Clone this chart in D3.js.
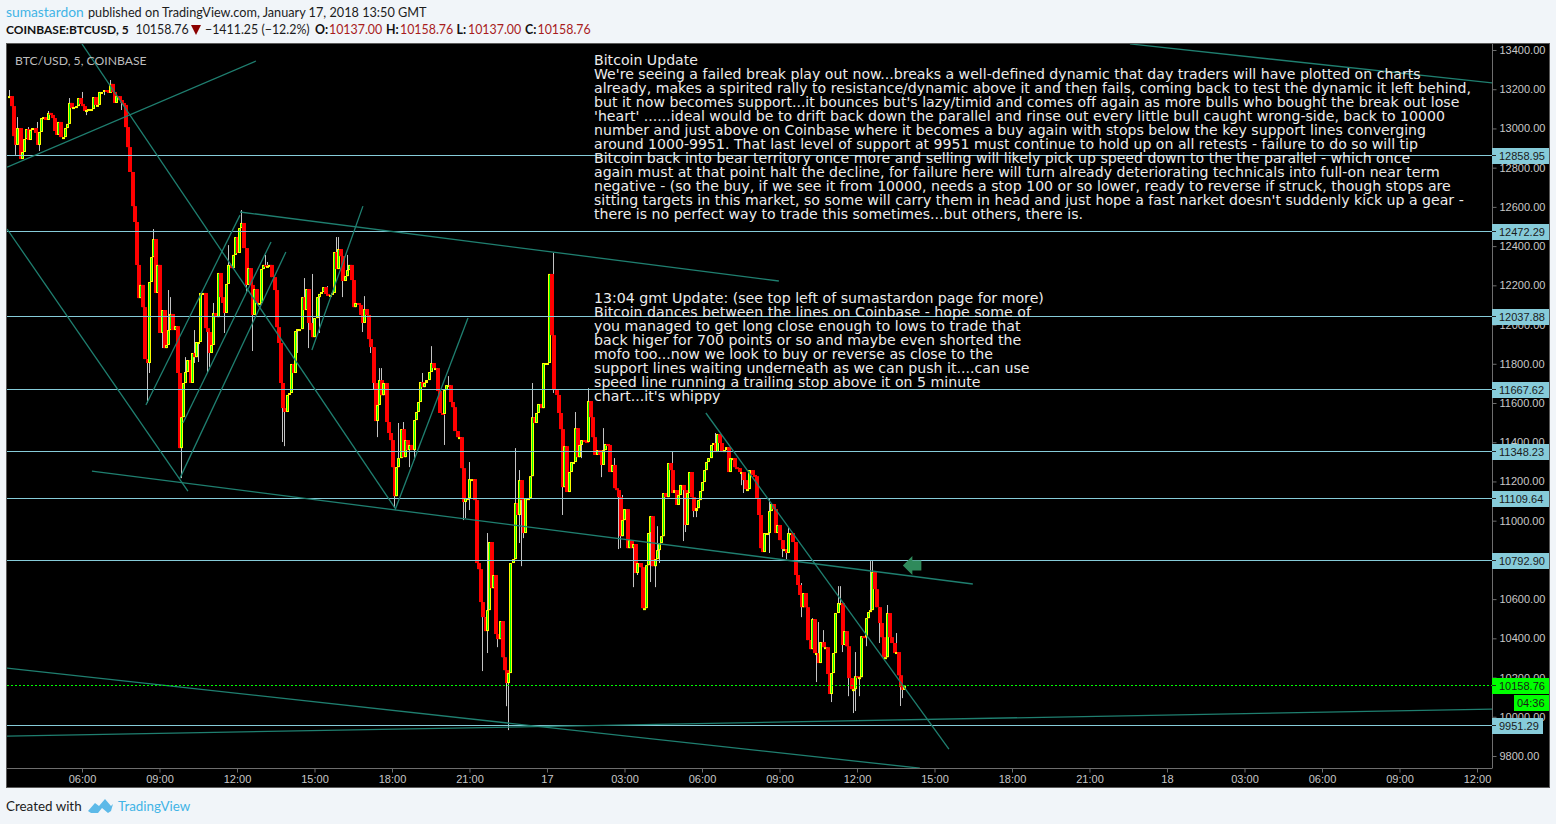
<!DOCTYPE html>
<html><head><meta charset="utf-8">
<script src="https://cdn.jsdelivr.net/npm/d3@7"></script>
<style>
html,body{margin:0;padding:0;background:#f1f5f9;overflow:hidden}
svg{display:block}
</style></head><body>
<svg id="c" width="1556" height="824"></svg>
<script>
// ---------- data ----------
const firstBarTime = Date.UTC(2018,0,16,3,10);
const firstOpen = 13155;
const closes = [
13165,13114,12961,12916,13002,12844,12880,12946,12997,12941,12992,13002,
12977,12916,12982,13053,13058,13043,13079,13069,13053,12987,12967,13033,
12956,12956,13002,13023,13130,13104,13109,13114,13155,13125,13114,13089,
13094,13099,13099,13160,13120,13120,13186,13186,13196,13191,13181,13227,
13186,13130,13165,13145,13130,13120,13007,12905,12778,12604,12523,12304,
12135,12202,12089,11824,11804,12217,12344,12436,12161,12304,11957,12074,
11880,11896,11972,12054,11972,11992,11753,11370,11528,11702,11758,11819,
11702,11855,11834,11911,11911,12161,12161,11982,11962,11855,11896,12059,
12038,12263,12140,12110,12059,12207,12304,12288,12355,12446,12365,12492,
12518,12390,12202,12288,12202,12049,12181,12110,12110,12283,12304,12294,
12299,12304,12242,12176,11987,11906,11702,11574,11554,11641,11651,11799,
11753,11967,11977,11977,12140,12074,12181,12008,11972,11936,12033,12140,
12156,12166,12191,12156,12151,12151,12161,12370,12283,12385,12349,12222,
12247,12278,12304,12227,12089,12110,12100,12049,12008,12079,12049,11926,
11885,11702,11508,11590,11717,11640,11702,11503,11447,11411,11273,11125,
11273,11319,11467,11324,11411,11360,11386,11360,11513,11554,11605,11707,
11681,11702,11717,11758,11804,11778,11778,11661,11549,11544,11666,11691,
11691,11605,11579,11457,11426,11426,11268,11095,11115,11115,11212,11212,
11105,10784,10753,10585,10508,10437,10544,10891,10656,10723,10422,10396,
10488,10304,10238,10172,10223,10784,10804,11090,11029,11207,11105,10937,
11115,11115,11227,11528,11498,11549,11595,11574,11804,11804,11804,12258,
11946,11666,11641,11549,11467,11171,11380,11146,11248,11299,11299,11472,
11324,11386,11411,11406,11401,11610,11528,11426,11335,11360,11335,11284,
11360,11391,11386,11248,11284,11166,11156,11120,10921,11003,11059,10860,
10901,10860,10881,10733,10784,10763,10554,10554,10773,10937,11023,10768,
10804,10850,10886,10921,11141,11120,11294,11258,11141,11156,11080,11131,
11182,11156,10978,11141,11248,11120,11049,11064,11105,11151,11197,11258,
11299,11319,11386,11396,11350,11442,11396,11350,11360,11375,11248,11319,
11319,11273,11268,11248,11248,11207,11161,11161,11258,11233,11227,11115,
11029,10860,10840,10937,10937,11049,11085,11059,10937,10978,10901,10855,
10855,10835,10937,10937,10891,10723,10672,10621,10559,10631,10559,10391,
10345,10498,10325,10325,10274,10381,10355,10355,10218,10116,10223,10325,
10529,10580,10580,10366,10437,10360,10197,10141,10141,10207,10202,10202,
10411,10406,10503,10534,10544,10738,10651,10559,10478,10406,10304,10304,
10529,10406,10376,10325,10330,10212,10151,10137,10158.76];
// long wicks: bar number and the price the wick reaches
const highWickBars = [0,3,4,9,13,18,28,34,47,60,61,67,74,75,82,86,95,102,108,119,120,137,141,148,152,153,157,165,172,173,181,183,189,192,196,204,214,222,225,227,231,235,237,243,248,253,263,269,276,281,285,288,291,292,301,308,328,353,362,366,368,373,376,378,385,386,393,400,401,408,410,412];
const highWickPrices = [13196,13058,13058,13007,13033,13089,13155,13186,13247,12329,12288,12487,12176,12140,11834,11972,12110,12405,12584,12355,12319,12237,12258,12196,12446,12446,12355,12145,11778,11778,11498,11503,11549,11753,11890,11737,11299,10937,10814,10544,10253,11370,11258,11702,11702,12365,11554,11676,11472,11319,11131,10967,10881,10825,10972,11350,11447,11115,10967,10733,10682,10503,10483,10442,10666,10666,10330,10794,10794,10570,10452,10427];
const lowWickBars = [3,9,14,36,44,52,64,65,71,72,80,86,88,92,93,100,110,113,127,128,134,139,144,155,164,168,169,171,179,186,188,202,211,212,214,220,222,227,231,232,237,238,239,253,257,266,275,283,284,290,292,298,300,302,313,314,318,319,340,341,353,359,361,368,375,382,387,390,392,393,395,398,404,406,414,415];
const lowWickPrices = [12865,12941,12885,13068,13170,13094,11600,11753,11880,11885,11217,11804,11809,11753,11783,11957,12161,11865,11401,11380,11855,11880,11957,12140,11962,11855,11671,11426,11069,11273,11309,11386,11003,11013,11054,10233,10325,10355,10054,9932,10886,10768,10911,11651,11029,11319,11222,10855,10860,10661,10723,10687,10661,10784,10896,10942,11018,11018,11181,11141,10835,10814,10804,10508,10177,10075,10330,10105,10019,10029,10105,10360,10376,10304,10055,10095];
// drawn trend lines: bar number and price at both ends
const trendBarsA   = [34,-0.8,-0.8,38.6,107.4,63.7,79.5,80.9,140.8,179.4,323.8,-0.8,-0.8,520.8];
const trendPricesA = [13431,12803,12487,11253,12574,11590,11217,11498,11870,11054,11549,10248,9901,13431];
const trendBarsB   = [179.4,114.8,83.2,447.8,357.7,107.4,128.7,121.8,164.5,213.3,436.7,423.2,689,689];
const trendPricesB = [11064,13344,11151,10677,12222,12558,12370,12421,12604,12033,9835,9738,10039,13232];
// horizontal levels
const levels = [12858.95,12472.29,12037.88,11667.62,11348.23,11109.64,10792.90,9951.29];
const lastPrice = 10158.76;
const countdown = "04:36";
const priceTicks = [13400,13200,13000,12800,12600,12400,12200,12000,11800,11600,11400,11200,11000,10800,10600,10400,10200,10000,9800];
const timeTicks = [[16,6,"06:00"],[16,9,"09:00"],[16,12,"12:00"],[16,15,"15:00"],[16,18,"18:00"],[16,21,"21:00"],[17,0,"17"],[17,3,"03:00"],[17,6,"06:00"],[17,9,"09:00"],[17,12,"12:00"],[17,15,"15:00"],[17,18,"18:00"],[17,21,"21:00"],[18,0,"18"],[18,3,"03:00"],[18,6,"06:00"],[18,9,"09:00"],[18,12,"12:00"]];
const noteOne = ["Bitcoin Update",
"We're seeing a failed break play out now...breaks a well-defined dynamic that day traders will have plotted on charts",
"already, makes a spirited rally to resistance/dynamic above it and then fails, coming back to test the dynamic it left behind,",
"but it now becomes support...it bounces but's lazy/timid and comes off again as more bulls who bought the break out lose",
"'heart' ......ideal would be to drift back down the parallel and rinse out every little bull caught wrong-side, back to 10000",
"number and just above on Coinbase where it becomes a buy again with stops below the key support lines converging",
"around 1000-9951. That last level of support at 9951 must continue to hold up on all retests - failure to do so will tip",
"Bitcoin back into bear territory once more and selling will likely pick up speed down to the the parallel - which once",
"again must at that point halt the decline, for failure here will turn already deteriorating technicals into full-on near term",
"negative - (so the buy, if we see it from 10000, needs a stop 100 or so lower, ready to reverse if struck, though stops are",
"sitting targets in this market, so some will carry them in head and just hope a fast narket doesn't suddenly kick up a gear -",
"there is no perfect way to trade this sometimes...but others, there is."];
const noteTwo = ["13:04 gmt Update: (see top left of sumastardon page for more)",
"Bitcoin dances between the lines on Coinbase - hope some of",
"you managed to get long close enough to lows to trade that",
"back higer for 700 points or so and maybe even shorted the",
"mofo too...now we look to buy or reverse as close to the",
"support lines waiting underneath as we can push it....can use",
"speed line running a trailing stop above it on 5 minute",
"chart...it's whippy"];

// ---------- scales ----------
const svg = d3.select("#c");
const plotL=7, plotR=1492, plotT=43, plotB=768;
const barMs = 5*60000;
const timeOf = b => new Date(firstBarTime + b*barMs);
const x = d3.scaleUtc().domain([timeOf(0), new Date(Date.UTC(2018,0,18,12,0))]).range([8.8,1477]);
const y = d3.scaleLinear().domain([13400,9800]).range([50,756]);
const rowOf = p => Math.round(y(p)-1);
const sans = "'Liberation Sans',Arial,sans-serif", ui = "Lato,'Open Sans',sans-serif";

// ---------- frame ----------
svg.append("rect").attr("width",1556).attr("height",824).attr("fill","#f1f5f9");
svg.append("rect").attr("x",6.5).attr("y",43.5).attr("width",1543).attr("height",744).attr("fill","#000").attr("stroke","#5a5a5a");
svg.append("defs").append("clipPath").attr("id","plot").append("rect").attr("x",plotL).attr("y",plotT+1).attr("width",plotR-plotL).attr("height",plotB-plotT-1);

// ---------- candles ----------
const bars = closes.map((c,i)=>{
  const o = i? closes[i-1] : firstOpen;
  let h=Math.max(o,c), l=Math.min(o,c);
  const hi=highWickBars.indexOf(i), li=lowWickBars.indexOf(i);
  if(hi>=0) h=Math.max(h,highWickPrices[hi]);
  if(li>=0) l=Math.min(l,lowWickPrices[li]);
  return {i,o,c,h,l,t:timeOf(i)};
});
const plot = svg.append("g").attr("clip-path","url(#plot)");
plot.append("g").selectAll("line").data(bars).join("line")
  .attr("x1",d=>Math.round(x(d.t))+.5).attr("x2",d=>Math.round(x(d.t))+.5)
  .attr("y1",d=>y(d.h)).attr("y2",d=>y(d.l)).attr("stroke","#c4c4c4").attr("stroke-width",1);
const bodies = plot.append("g").selectAll("g").data(bars).join("g");
bodies.append("rect").attr("x",d=>Math.round(x(d.t))-1).attr("width",d=>d.c>=d.o?3:4)
  .attr("y",d=>y(Math.max(d.o,d.c))).attr("height",d=>Math.max(2,Math.abs(y(d.o)-y(d.c))))
  .attr("fill",d=>d.c>=d.o?"#ffff00":"#ff0000");
bodies.filter(d=>d.c>=d.o&&Math.abs(y(d.o)-y(d.c))>3).append("rect").attr("x",d=>Math.round(x(d.t))).attr("width",1)
  .attr("y",d=>y(Math.max(d.o,d.c))+1).attr("height",d=>Math.abs(y(d.o)-y(d.c))-2).attr("fill","#00ff00");

// ---------- levels and trend lines ----------
plot.append("g").selectAll("line").data(levels).join("line")
  .attr("x1",plotL).attr("x2",plotR).attr("y1",d=>rowOf(d)+.5).attr("y2",d=>rowOf(d)+.5)
  .attr("stroke","#86cbd9").attr("stroke-width",1);
plot.append("g").selectAll("line").data(trendBarsA).join("line")
  .attr("x1",(d,i)=>x(timeOf(d))).attr("y1",(d,i)=>y(trendPricesA[i]))
  .attr("x2",(d,i)=>x(timeOf(trendBarsB[i]))).attr("y2",(d,i)=>y(trendPricesB[i]))
  .attr("stroke","#1f7f70").attr("stroke-width",1.3);
plot.append("line").attr("x1",plotL).attr("x2",plotR).attr("y1",rowOf(lastPrice)+.5).attr("y2",rowOf(lastPrice)+.5)
  .attr("stroke","#00ff00").attr("stroke-dasharray","2 2");

// marker arrow beside the last rejection
const arrowAt = {t:timeOf(416), p:10771};
plot.append("path").attr("transform",`translate(${x(arrowAt.t)},${y(arrowAt.p)})`)
  .attr("d","M-1.5,0 L8,-9.5 L8,-5 L17,-5 L17,5 L8,5 L8,9.5 Z").attr("fill","#2f8a5b");

// ---------- axes ----------
const yAxis = d3.axisRight(y).tickValues(priceTicks).tickFormat(d3.format(".2f")).tickSize(4).tickPadding(3);
const gy = svg.append("g").attr("transform",`translate(${plotR+.5},0)`).call(yAxis);
const xAxis = d3.axisBottom(x).tickValues(timeTicks.map(d=>new Date(Date.UTC(2018,0,d[0],d[1])))).tickFormat((d,i)=>timeTicks[i][2]).tickSize(4).tickPadding(3);
const gx = svg.append("g").attr("transform",`translate(0,${plotB+.5})`).call(xAxis);
[gy,gx].forEach(g=>{
  g.selectAll("text").attr("fill","#c8c8c8").attr("font-family",sans).attr("font-size",11);
  g.selectAll("line").attr("stroke","#6e6e6e");
  g.select(".domain").remove();
});
svg.append("line").attr("x1",plotR+.5).attr("x2",plotR+.5).attr("y1",44).attr("y2",plotB+.5).attr("stroke","#6e6e6e");
svg.append("line").attr("x1",plotL).attr("x2",plotR).attr("y1",plotB+.5).attr("y2",plotB+.5).attr("stroke","#6e6e6e");

// ---------- price tags ----------
const tagX = 1499;
const tags = svg.append("g").selectAll("g").data(levels).join("g").attr("transform",d=>`translate(${plotR},${rowOf(d)})`);
tags.append("rect").attr("x",0).attr("y",-7).attr("width",d=>d<10000?51:57).attr("height",16).attr("fill","#86cbd9");
tags.append("line").attr("x1",0).attr("x2",4).attr("y1",.5).attr("y2",.5).attr("stroke","#222");
tags.append("text").attr("x",tagX-plotR).attr("y",5).attr("font-family",sans).attr("font-size",11).attr("fill","#1a1a1a").text(d=>d.toFixed(2));
const lastRow = rowOf(lastPrice);
svg.append("rect").attr("x",plotR).attr("y",lastRow-7).attr("width",57).attr("height",16).attr("fill","#00ff00");
svg.append("line").attr("x1",plotR).attr("x2",plotR+4).attr("y1",lastRow+.5).attr("y2",lastRow+.5).attr("stroke","#222");
svg.append("text").attr("x",tagX).attr("y",lastRow+5).attr("font-family",sans).attr("font-size",11).attr("fill","#1a1a1a").text(lastPrice.toFixed(2));
svg.append("rect").attr("x",1514).attr("y",lastRow+10).attr("width",35).attr("height",16).attr("fill","#00ff00");
svg.append("text").attr("x",1517).attr("y",lastRow+22).attr("font-family",sans).attr("font-size",11).attr("fill","#1a1a1a").text(countdown);

// ---------- notes ----------
function note(lines,top,fs){
  svg.append("g").selectAll("text").data(lines).join("text").attr("x",594).attr("y",(d,i)=>top+i*14)
    .attr("font-family","'DejaVu Sans',Verdana,sans-serif").attr("font-size",fs).attr("fill","#ececec").text(d=>d);
}
note(noteOne,65,14.12); note(noteTwo,303,14.17);
svg.append("text").attr("x",15).attr("y",65).attr("font-family",ui).attr("font-size",12.2).attr("fill","#bdbdbd").text("BTC/USD, 5, COINBASE");

// ---------- header and footer ----------
const hdr=(tx,px,py,col,w,fs)=>svg.append("text").attr("x",px).attr("y",py).attr("font-family",ui).attr("font-size",fs||12.7).attr("font-weight",w||400).attr("fill",col).text(tx);
hdr("sumastardon",6,17,"#41b4e6",400,13.8);
hdr("published on TradingView.com, January 17, 2018 13:50 GMT",88,17,"#1c1c1c");
hdr("COINBASE:BTCUSD, 5",6,34,"#111",700,12);
hdr("10158.76",135.5,34,"#1c1c1c",400,12.4);
svg.append("path").attr("d","M191,25 L201,25 L196,35 Z").attr("fill","#8b0000");
hdr("\u22121411.25 (\u221212.2%)",205,34,"#1c1c1c",400,12.4);
[["O:",315,"10137.00",329],["H:",386,"10158.76",400],["L:",456.5,"10137.00",468],["C:",525,"10158.76",537.5]].forEach(d=>{
  hdr(d[0],d[1],34,"#111",700,12.4); hdr(d[2],d[3],34,"#a81c1c",400,12.4);
});
hdr("Created with",6,811,"#1c1c1c",400,13.4);
svg.append("path").attr("transform","translate(88,798)").attr("fill","#5cb9e8")
  .attr("d","M0,13 L7,5 L11,8 L17,1 L23,8 L25,6 L23,13 L20,15 L14,10 L10,15 L3,15 Z");
hdr("TradingView",118,811,"#41b4e6",400,13.4);
</script>
</body></html>
